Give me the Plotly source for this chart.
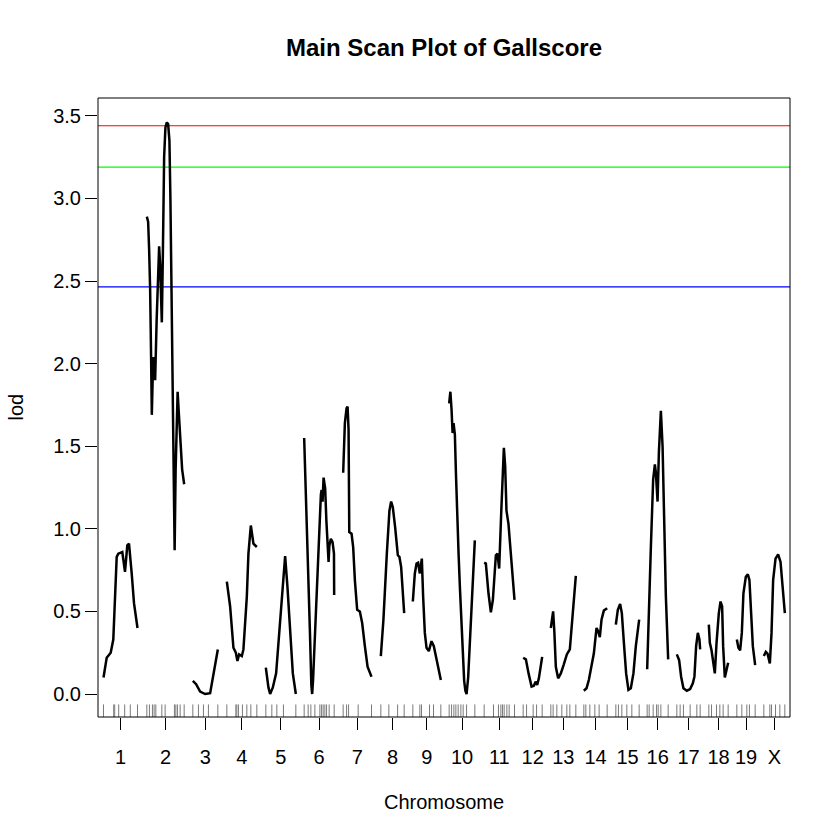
import plotly.graph_objects as go

# ---------------- data ----------------
chrom_names = ["1", "2", "3", "4", "5", "6", "7", "8", "9", "10",
               "11", "12", "13", "14", "15", "16", "17", "18", "19", "X"]
chrom_start = [0, 130, 268, 370, 487, 602, 719, 832, 928, 1037,
               1142, 1259, 1342, 1441, 1537, 1631, 1720, 1816, 1900, 1981]
chrom_length = [102, 112, 75, 90, 90, 90, 85, 70, 84, 77,
                91, 57, 75, 70, 70, 63, 70, 58, 55, 63]

# LOD curve per chromosome: positions (cM within chromosome) and LOD scores
pos_1 = [0, 9.6, 21.6, 29.4, 39.6, 44.4, 56.4, 64.5, 71.4, 76.5, 84.6, 91.5, 102]
lod_1 = [0.10, 0.22, 0.25, 0.33, 0.83, 0.85, 0.86, 0.74, 0.90, 0.91, 0.73, 0.55, 0.40]

pos_2 = [0, 3.9, 6.9, 9.9, 12.9, 15, 17.4, 19.8, 22.8, 24.9, 29.4, 33.9, 36.9, 39.9, 45,
         48, 51.9, 55.8, 60, 63.9, 67.8, 70.8, 73.8, 76.8, 80.4, 83.4, 86.4, 89.4, 92.4,
         95.4, 99.9, 105.9, 112]
lod_2 = [2.89, 2.86, 2.69, 2.45, 2.02, 1.69, 1.90, 2.04, 1.99, 1.90, 2.26, 2.54, 2.71, 2.60, 2.25,
         2.65, 3.25, 3.43, 3.46, 3.45, 3.35, 2.99, 2.45, 1.84, 1.30, 0.87, 1.36, 1.66, 1.83,
         1.72, 1.54, 1.36, 1.27]

pos_3 = [0, 9.9, 21.9, 36.9, 51.9, 61.8, 75]
lod_3 = [0.08, 0.06, 0.015, 0.0, 0.005, 0.125, 0.27]

pos_4 = [0, 9.9, 19.8, 27, 31.8, 36.9, 45, 49.8, 60, 64.8, 72, 79.8, 90]
lod_4 = [0.68, 0.53, 0.28, 0.25, 0.20, 0.24, 0.23, 0.27, 0.59, 0.85, 1.02, 0.91, 0.89]

pos_5 = [0, 7.8, 12.9, 21, 30.9, 40.8, 51, 57.9, 64.8, 72.9, 81, 90]
lod_5 = [0.16, 0.04, 0.0, 0.04, 0.125, 0.39, 0.69, 0.835, 0.65, 0.37, 0.125, 0.0]

pos_6 = [0, 5.1, 11.1, 17.1, 21.6, 24, 26.7, 29.1, 36.6, 44.1, 50.1, 52.2, 55.2, 58.2, 63,
         66.6, 73.2, 75.6, 80.1, 85.2, 89.4, 90]
lod_6 = [1.55, 1.235, 0.87, 0.39, 0.05, 0.0, 0.085, 0.21, 0.57, 0.96, 1.205, 1.235, 1.165, 1.31, 1.245,
         1.05, 0.80, 0.90, 0.94, 0.92, 0.85, 0.60]

pos_7 = [0, 5.1, 10.2, 13.2, 16.2, 18, 18.3, 25.2, 30, 35.1, 42, 50.1, 57, 65.1, 73.2, 85]
lod_7 = [1.34, 1.64, 1.73, 1.74, 1.60, 1.30, 0.98, 0.97, 0.89, 0.69, 0.51, 0.50, 0.43, 0.29, 0.165, 0.105]

pos_8 = [0, 7.8, 18, 25.8, 30.9, 36, 42.9, 51, 55.8, 60.9, 64.8, 70]
lod_8 = [0.23, 0.45, 0.85, 1.11, 1.165, 1.13, 1.01, 0.84, 0.83, 0.77, 0.65, 0.49]

pos_9 = [0, 6, 11.1, 15.9, 21, 24, 27, 30.9, 36, 41.1, 48, 56.1, 63, 71.1, 84]
lod_9 = [0.56, 0.73, 0.79, 0.795, 0.73, 0.80, 0.82, 0.59, 0.37, 0.28, 0.26, 0.32, 0.29, 0.21, 0.085]

pos_10 = [0, 3.6, 7.2, 10.2, 13.2, 17.1, 20.1, 24, 28.2, 32.1, 36, 40.2, 45, 48.6, 52.2,
          57, 62.1, 70.2, 77]
lod_10 = [1.76, 1.83, 1.72, 1.58, 1.64, 1.57, 1.35, 1.05, 0.85, 0.65, 0.45, 0.25, 0.08, 0.02, 0.0,
          0.10, 0.31, 0.63, 0.93]

pos_11 = [0, 5.1, 12.9, 20.1, 26.1, 35.1, 39.9, 45, 51, 56.1, 59.1, 63, 66.9, 72.9, 81, 91]
lod_11 = [0.795, 0.79, 0.61, 0.495, 0.57, 0.84, 0.85, 0.76, 1.09, 1.40, 1.49, 1.38, 1.11, 1.03, 0.83, 0.57]

pos_12 = [0, 8.1, 16.2, 25.2, 32.1, 37.2, 42, 47.1, 57]
lod_12 = [0.22, 0.21, 0.125, 0.045, 0.05, 0.075, 0.055, 0.095, 0.225]

pos_13 = [0, 6.9, 10.5, 15, 21.9, 30, 39, 48, 57, 66, 75]
lod_13 = [0.40, 0.50, 0.38, 0.165, 0.095, 0.125, 0.18, 0.24, 0.27, 0.49, 0.715]

pos_14 = [0, 8.1, 15, 23.1, 30, 38.1, 42.9, 48, 53.1, 60, 70]
lod_14 = [0.02, 0.035, 0.085, 0.165, 0.245, 0.40, 0.38, 0.345, 0.45, 0.505, 0.52]

pos_15 = [0, 6, 12.9, 18, 24.9, 30.9, 37.8, 45, 52.8, 60, 70]
lod_15 = [0.42, 0.51, 0.545, 0.49, 0.29, 0.125, 0.025, 0.035, 0.125, 0.29, 0.45]

pos_16 = [0, 6, 11.1, 18, 23.1, 26.1, 31.2, 35.1, 41.1, 46.2, 51, 56.1, 63]
lod_16 = [0.15, 0.49, 0.89, 1.30, 1.39, 1.34, 1.165, 1.46, 1.715, 1.50, 0.99, 0.59, 0.21]

pos_17 = [0, 6.9, 12.9, 19.8, 30, 39.9, 48, 52.8, 57.9, 63, 67.8, 70]
lod_17 = [0.24, 0.205, 0.105, 0.035, 0.02, 0.03, 0.065, 0.105, 0.29, 0.37, 0.33, 0.27]

pos_18 = [0, 3, 8.1, 12.9, 18, 23.1, 30, 35.1, 39.9, 42.9, 48, 53.1, 58]
lod_18 = [0.42, 0.31, 0.265, 0.205, 0.125, 0.31, 0.49, 0.56, 0.53, 0.29, 0.10, 0.145, 0.19]

pos_19 = [0, 4.8, 9.9, 15, 19.8, 27, 33, 37.8, 42.9, 48, 55]
lod_19 = [0.33, 0.28, 0.265, 0.37, 0.61, 0.71, 0.725, 0.69, 0.49, 0.29, 0.175]

pos_X = [0, 6, 11.1, 18, 23.1, 27.9, 35.1, 42.9, 50.1, 56.1, 63]
lod_X = [0.23, 0.255, 0.245, 0.185, 0.37, 0.69, 0.82, 0.845, 0.80, 0.65, 0.49]

# marker positions (cM within chromosome) for the rug
mk_1 = [0, 30.6, 33.6, 45.6, 63.6, 80.4, 102]
mk_2 = [0, 7.8, 16.8, 21.9, 27, 45, 54.9, 82.8, 87, 91.8, 99.9, 112]
mk_3 = [0, 16.8, 31.8, 46.8, 75]
mk_4 = [0, 27, 30, 34.8, 46.8, 60, 72, 90]
mk_5 = [0, 18, 33, 52.8, 90]
mk_6 = [0, 12, 20.1, 32.1, 47.1, 52.2, 57, 62.1, 67.2, 75, 90]
mk_7 = [0, 10.2, 16.2, 45, 85]
mk_8 = [0, 24, 50.4, 70]
mk_9 = [0, 21, 26.1, 50.1, 62.1, 84]
mk_10 = [0, 7.2, 14.1, 20.1, 27, 35.1, 42, 52.2, 77]
mk_11 = [0, 27.9, 42.9, 50.1, 54.9, 60, 68.1, 75, 91]
mk_12 = [0, 10.2, 30, 40.2, 57]
mk_13 = [0, 6.9, 18, 33, 48, 57, 75]
mk_14 = [0, 6, 18, 33, 45.9, 70]
mk_15 = [0, 7.8, 18, 33, 48, 70]
mk_16 = [0, 6, 18, 28.2, 33, 41.1, 63]
mk_17 = [0, 9.9, 19.8, 39.9, 60, 70]
mk_18 = [0, 8.1, 23.1, 33, 42.9, 58]
mk_19 = [0, 15, 30, 37.8, 55]
mk_X = [0, 18, 23.1, 35.1, 48, 63]

# significance thresholds
threshold_values = [3.44, 3.19, 2.465]
threshold_colors = ["#FF0000", "#00FF00", "#0000FF"]

y_tick_values = [0.0, 0.5, 1.0, 1.5, 2.0, 2.5, 3.0, 3.5]
y_tick_labels = ["0.0", "0.5", "1.0", "1.5", "2.0", "2.5", "3.0", "3.5"]

curve_pos = [pos_1, pos_2, pos_3, pos_4, pos_5, pos_6, pos_7, pos_8, pos_9, pos_10,
             pos_11, pos_12, pos_13, pos_14, pos_15, pos_16, pos_17, pos_18, pos_19, pos_X]
curve_lod = [lod_1, lod_2, lod_3, lod_4, lod_5, lod_6, lod_7, lod_8, lod_9, lod_10,
             lod_11, lod_12, lod_13, lod_14, lod_15, lod_16, lod_17, lod_18, lod_19, lod_X]
markers = [mk_1, mk_2, mk_3, mk_4, mk_5, mk_6, mk_7, mk_8, mk_9, mk_10,
           mk_11, mk_12, mk_13, mk_14, mk_15, mk_16, mk_17, mk_18, mk_19, mk_X]

# ---------------- figure ----------------
FONT = "Liberation Sans, Arial, Helvetica, sans-serif"
Y_MIN, Y_MAX = -0.139, 3.608
X_MIN, X_MAX = -16.5, 2059.5
RUG_TOP = -0.063

fig = go.Figure()

for start, p, l in zip(chrom_start, curve_pos, curve_lod):
    fig.add_trace(go.Scatter(
        x=[start + v for v in p], y=l, mode="lines",
        line=dict(color="black", width=2.5), showlegend=False, hoverinfo="skip"))

rx, ry = [], []
for start, mk in zip(chrom_start, markers):
    for v in mk:
        rx += [start + v, start + v, None]
        ry += [Y_MIN, RUG_TOP, None]
fig.add_trace(go.Scatter(x=rx, y=ry, mode="lines",
                         line=dict(color="#7a7a7a", width=1),
                         showlegend=False, hoverinfo="skip"))

for val, col in zip(threshold_values, threshold_colors):
    fig.add_shape(type="line", xref="paper", x0=0, x1=1, yref="y", y0=val, y1=val,
                  line=dict(color=col, width=1.2), layer="below")

fig.add_shape(type="rect", xref="paper", yref="paper", x0=0, x1=1, y0=0, y1=1,
              line=dict(color="black", width=1))

tick_vals = [s + L / 2 for s, L in zip(chrom_start, chrom_length)]

fig.update_layout(
    width=840, height=840,
    margin=dict(l=98, r=50, t=98, b=123),
    paper_bgcolor="white", plot_bgcolor="white",
    font=dict(family=FONT, size=20, color="black"),
    title=dict(text="<b>Main Scan Plot of Gallscore</b>", x=0.5, xref="paper",
               y=1 - 48 / 840, yref="container", yanchor="middle", xanchor="center",
               font=dict(family=FONT, size=24, color="black")),
    xaxis=dict(range=[X_MIN, X_MAX], tickvals=tick_vals, ticktext=chrom_names,
               ticks="outside", ticklen=12, tickwidth=1, tickcolor="black",
               showgrid=False, zeroline=False, showline=False,
               tickfont=dict(family=FONT, size=20), ticklabelstandoff=10),
    yaxis=dict(range=[Y_MIN, Y_MAX], tickvals=y_tick_values, ticktext=y_tick_labels,
               ticks="outside", ticklen=12, tickwidth=1, tickcolor="black",
               showgrid=False, zeroline=False, showline=False,
               tickfont=dict(family=FONT, size=20)),
    annotations=[
        dict(text="lod", xref="paper", yref="paper", x=(15 - 98) / 692, y=0.5,
             xanchor="center", yanchor="middle", textangle=-90, showarrow=False,
             font=dict(family=FONT, size=20)),
        dict(text="Chromosome", xref="paper", yref="paper", x=0.5, y=(717 - 802) / 619,
             xanchor="center", yanchor="middle", showarrow=False,
             font=dict(family=FONT, size=20)),
    ],
)

fig.write_html("out.html")
